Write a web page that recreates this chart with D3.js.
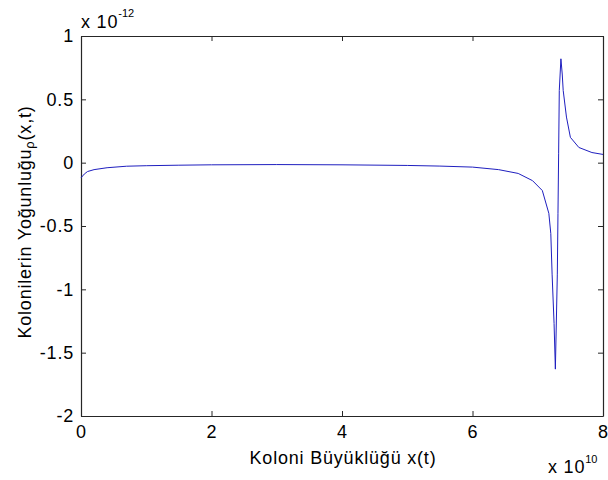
<!DOCTYPE html>
<html>
<head>
<meta charset="utf-8">
<script src="https://cdn.jsdelivr.net/npm/d3@7"></script>
<style>
  body { margin: 0; background: #fff; }
  svg { font-family: "Liberation Sans", Arial, sans-serif; display: block; }
  .axis path, .axis line { stroke: #262626; }
  .axis text { font-size: 18px; fill: #000; letter-spacing: 0.8px; }
</style>
</head>
<body>
<div id="chart"></div>
<script>
// values (x in 1e10, y in 1e-12)
const xValues = [0, 0.05, 0.1, 0.2, 0.4, 0.7, 1, 1.5, 2, 3, 4, 5, 5.5, 6, 6.4, 6.7, 6.92, 7.07, 7.17, 7.2, 7.22, 7.25, 7.27, 7.3, 7.31, 7.32, 7.33, 7.355, 7.375, 7.39, 7.44, 7.5, 7.63, 7.83, 8];
const yValues = [-0.12, -0.09, -0.07, -0.055, -0.04, -0.028, -0.024, -0.02, -0.017, -0.015, -0.017, -0.022, -0.027, -0.035, -0.055, -0.085, -0.142, -0.22, -0.4, -0.56, -0.88, -1.27, -1.63, -0.88, -0.4, 0.07, 0.57, 0.82, 0.7, 0.57, 0.36, 0.2, 0.12, 0.08, 0.065];
const xTicks = [0, 2, 4, 6, 8];
const yTicks = [1, 0.5, 0, -0.5, -1, -1.5, -2];

const width = 608, height = 480;
const margin = { top: 36, right: 5, bottom: 64, left: 81 };
const innerWidth = width - margin.left - margin.right;
const innerHeight = height - margin.top - margin.bottom;

const svg = d3.select("#chart")
  .append("svg")
    .attr("width", width)
    .attr("height", height);

const inner = svg
  .append("g")
    .attr("transform", `translate(${margin.left}, ${margin.top})`);

const xScale = d3.scaleLinear().domain([0, 8]).range([0, innerWidth]);
const yScale = d3.scaleLinear().domain([-2, 1]).range([innerHeight, 0]);
const fmt = d => String(d);

// axes, ticks pointing inward on all four sides
const bottomAxis = d3.axisBottom(xScale).tickValues(xTicks).tickSize(-5).tickPadding(9).tickSizeOuter(0).tickFormat(fmt);
const topAxis = d3.axisTop(xScale).tickValues(xTicks).tickSize(-5).tickSizeOuter(0);
const leftAxis = d3.axisLeft(yScale).tickValues(yTicks).tickSize(-5).tickPadding(7).tickSizeOuter(0).tickFormat(fmt);
const rightAxis = d3.axisRight(yScale).tickValues(yTicks).tickSize(-5).tickSizeOuter(0);

inner.append("g")
    .attr("class", "axis")
    .attr("transform", `translate(0, ${innerHeight})`)
    .call(bottomAxis);
inner.append("g")
    .attr("class", "axis axis-top")
    .call(topAxis);
inner.append("g")
    .attr("class", "axis")
    .call(leftAxis);
inner.append("g")
    .attr("class", "axis axis-right")
    .attr("transform", `translate(${innerWidth}, 0)`)
    .call(rightAxis);
d3.selectAll(".axis-top text, .axis-right text").remove();
d3.selectAll(".axis .domain").attr("stroke-width", 1.2);

// the curve
const line = d3.line()
  .x((d, i) => xScale(xValues[i]))
  .y(d => yScale(d));
inner.append("path")
    .datum(yValues)
    .attr("fill", "none")
    .attr("stroke", "#1f1fbf")
    .attr("stroke-width", 1)
    .attr("d", line);

// exponent labels
const yExp = svg.append("text")
    .attr("x", margin.left)
    .attr("y", 28)
    .attr("font-size", 18)
    .attr("letter-spacing", 0.8);
yExp.append("tspan").text("x 10");
yExp.append("tspan").attr("font-size", 11).attr("letter-spacing", 0).attr("dy", -11).text("-12");

const xExp = svg.append("text")
    .attr("x", 548)
    .attr("y", 473)
    .attr("font-size", 18)
    .attr("letter-spacing", 0.8);
xExp.append("tspan").text("x 10");
xExp.append("tspan").attr("font-size", 11).attr("letter-spacing", 0).attr("dy", -10).text("10");

// axis titles
svg.append("text")
    .attr("x", 343)
    .attr("y", 464)
    .attr("text-anchor", "middle")
    .attr("font-size", 18)
    .attr("letter-spacing", 0.8)
    .text("Koloni Büyüklüğü x(t)");

const yTitle = svg.append("text")
    .attr("transform", `translate(31, 222) rotate(-90)`)
    .attr("text-anchor", "middle")
    .attr("font-size", 18)
    .attr("letter-spacing", 0.8);
yTitle.append("tspan").text("Kolonilerin Yoğunluğu");
yTitle.append("tspan").attr("font-size", 13).attr("dy", 3).text("ρ");
yTitle.append("tspan").attr("dy", -3).text("(x,t)");
</script>
</body>
</html>
